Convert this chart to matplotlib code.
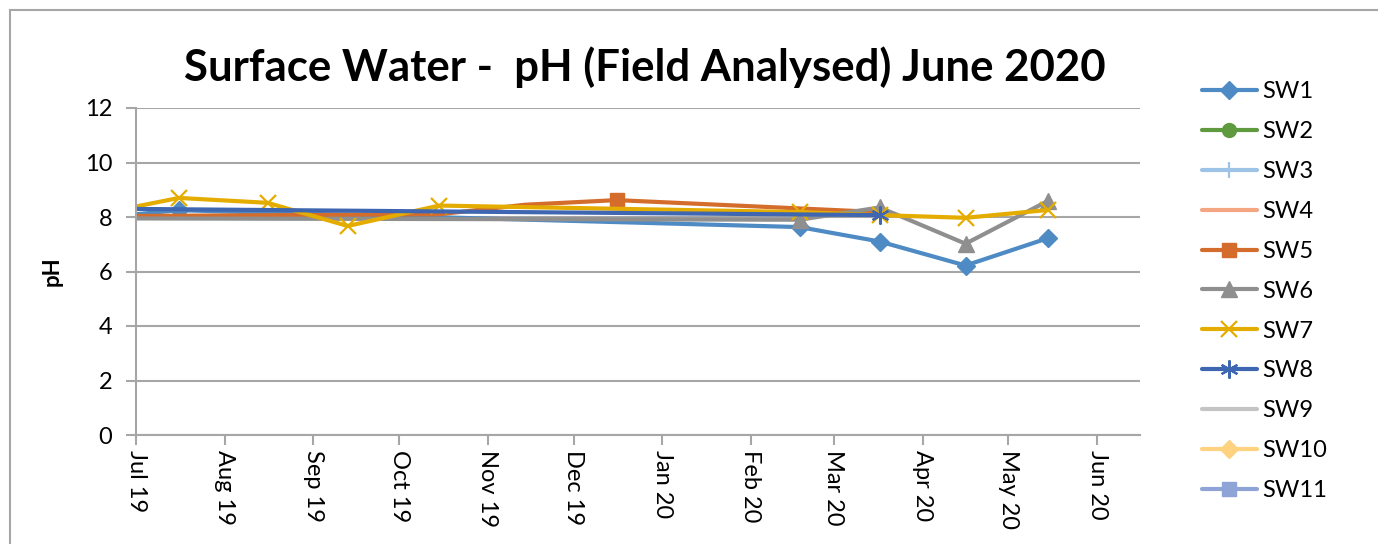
import numpy as np
import pandas as pd
import matplotlib
matplotlib.use("Agg")
import matplotlib.pyplot as plt
import matplotlib.dates as mdates
from matplotlib.lines import Line2D

plt.rcParams['font.family'] = ['Lato', 'DejaVu Sans']

# sample dates (first one sits before the axis start, Excel clips it)
sw1_dates = ["2019-06-15", "2019-07-16", "2020-02-18", "2020-03-17", "2020-04-16", "2020-05-15"]
sw1_ph = [7.94, 8.25, 7.63, 7.1, 6.22, 7.23]

sw5_dates = ["2019-06-15", "2019-10-15", "2019-11-14", "2019-12-16", "2020-03-17"]
sw5_ph = [8.03, 8.1, 8.45, 8.62, 8.18]
sw5_shown = [3]  # only the Dec marker is visible, rest sit under other lines

sw6_dates = ["2019-06-15", "2020-02-18", "2020-03-17", "2020-04-16", "2020-05-15"]
sw6_ph = [7.95, 7.9, 8.35, 7.02, 8.6]

sw7_dates = ["2019-06-15", "2019-07-16", "2019-08-16", "2019-09-13", "2019-10-15",
             "2020-02-18", "2020-03-17", "2020-04-16", "2020-05-15"]
sw7_ph = [8.05, 8.7, 8.52, 7.67, 8.42, 8.18, 8.07, 7.97, 8.26]

sw8_dates = ["2019-06-15", "2020-03-17"]
sw8_ph = [8.31, 8.07]

series = [
    ("SW1", sw1_dates, sw1_ph, "#4e8ac4", "D", 9, None),
    ("SW2", [], [], "#5f9a3f", "o", 10, None),
    ("SW3", [], [], "#9dc3e6", "|", 11, None),
    ("SW4", [], [], "#f4a582", "", 0, None),
    ("SW5", sw5_dates, sw5_ph, "#d46d2c", "s", 10, sw5_shown),
    ("SW6", sw6_dates, sw6_ph, "#8f8f8f", "^", 11, None),
    ("SW7", sw7_dates, sw7_ph, "#e5ac00", "x", 12, None),
    ("SW8", sw8_dates, sw8_ph, "#3f66b0", (6, 2, 0), 13, None),
    ("SW9", [], [], "#c4c4c4", "", 0, None),
    ("SW10", [], [], "#ffd27f", "D", 9, None),
    ("SW11", [], [], "#8ea3d6", "s", 10, None),
]

fig = plt.figure(figsize=(13.78, 5.44), dpi=100)
ax = fig.add_axes([136/1378, 1-435/544, (1140-136)/1378, (435-108)/544])

for name, d, v, col, mk, ms, every in series:
    x = pd.to_datetime(d)
    thin = mk in ("x", "|") or isinstance(mk, tuple)
    ax.plot(x, v, color=col, lw=3, marker=mk, markersize=ms, markevery=every,
            markeredgewidth=1.6 if thin else 1,
            markerfacecolor=col, markeredgecolor=col, label=name,
            solid_capstyle="round")

ax.set_xlim(pd.Timestamp("2019-07-01"), pd.Timestamp("2020-06-16"))
ax.set_ylim(0, 12)
ax.set_yticks(np.arange(0, 13, 2))
ax.xaxis.set_major_locator(mdates.MonthLocator())
ax.xaxis.set_major_formatter(mdates.DateFormatter("%b %y"))
plt.setp(ax.get_xticklabels(), rotation=270, ha="center", va="top")

ax.grid(axis="y", color="#a6a6a6", lw=1.5)
ax.set_axisbelow(True)
for s in ["top", "right"]:
    ax.spines[s].set_visible(False)
for s in ["left", "bottom"]:
    ax.spines[s].set_color("#a6a6a6")
    ax.spines[s].set_linewidth(1.5)
ax.tick_params(axis="both", colors="#a6a6a6", labelcolor="black", labelsize=17,
               length=7, width=1.5)
ax.tick_params(axis="y", pad=10)
ax.tick_params(axis="x", pad=4)

ax.set_ylabel("pH", fontsize=16, fontweight="bold")
ax.yaxis.set_label_coords((63-136)/1004, 0.5)

fig.text(645/1378, 1-67/544, "Surface Water -  pH (Field Analysed) June 2020",
         ha="center", va="center", fontsize=31.5, fontweight="bold")

ax.legend(loc="upper left", bbox_to_anchor=(1181/1378, 1-60/544),
          bbox_transform=fig.transFigure, frameon=False, fontsize=17,
          handlelength=2.3, labelspacing=0.8, handletextpad=0.25)

# outer chart frame
fig.add_artist(Line2D([10/1378, 10/1378], [0, 1-10/544], color="#a6a6a6", lw=1.5))
fig.add_artist(Line2D([10/1378, 1], [1-10/544, 1-10/544], color="#a6a6a6", lw=1.5))

fig.savefig("out.png", dpi=100)
